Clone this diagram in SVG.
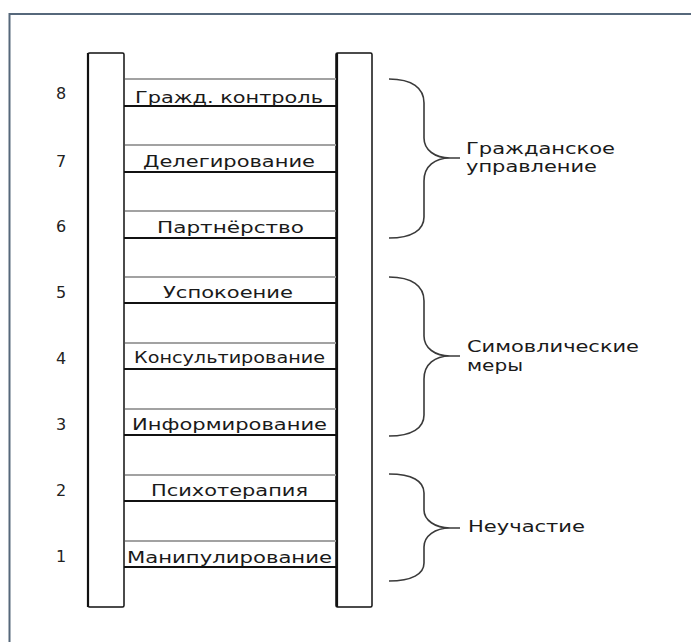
<svg xmlns="http://www.w3.org/2000/svg" width="691" height="642" viewBox="0 0 691 642">
<style>
.frame{fill:none;stroke:#56687b;stroke-width:2}
.rail{fill:#fff;stroke:#111;stroke-width:1.5}
.railedge{stroke:#111;stroke-width:2.2}
.rg{stroke:#a2a2a2;stroke-width:2}
.rb{stroke:#111;stroke-width:2}
.lbl{font-family:"DejaVu Sans",sans-serif;font-size:15px;fill:#1a1a1a}
.num{font-family:"DejaVu Sans",sans-serif;font-size:16px;fill:#222;text-anchor:middle}
.grp{font-family:"DejaVu Sans",sans-serif;font-size:16px;fill:#1a1a1a}
.brace{fill:none;stroke:#3a3a3a;stroke-width:1.6}
</style>
<rect width="691" height="642" fill="#fff"/>
<path class="frame" d="M9.5,642 L9.5,14 L691,14"/>
<g id="rails">
<rect class="rail" x="88" y="53" width="36" height="554" rx="1.5"/>
<line class="railedge" x1="88" y1="53" x2="88" y2="607"/>
<rect class="rail" x="336" y="53" width="36" height="554" rx="1.5"/>
<line class="railedge" x1="337" y1="53" x2="337" y2="607"/>
</g>
<g id="rung8"><line class="rg" x1="125" y1="79" x2="336" y2="79"/><line class="rb" x1="124" y1="106" x2="336" y2="106"/><text class="lbl" x="135" y="103" textLength="188" lengthAdjust="spacingAndGlyphs">Гражд. контроль</text><text class="num" x="61" y="99">8</text></g>
<g id="rung7"><line class="rg" x1="125" y1="145" x2="336" y2="145"/><line class="rb" x1="124" y1="172" x2="336" y2="172"/><text class="lbl" x="143" y="167" textLength="172" lengthAdjust="spacingAndGlyphs">Делегирование</text><text class="num" x="61" y="167">7</text></g>
<g id="rung6"><line class="rg" x1="125" y1="211" x2="336" y2="211"/><line class="rb" x1="124" y1="238" x2="336" y2="238"/><text class="lbl" x="157" y="233" textLength="147" lengthAdjust="spacingAndGlyphs">Партнёрство</text><text class="num" x="61" y="232">6</text></g>
<g id="rung5"><line class="rg" x1="125" y1="277" x2="336" y2="277"/><line class="rb" x1="124" y1="303" x2="336" y2="303"/><text class="lbl" x="163" y="298" textLength="130" lengthAdjust="spacingAndGlyphs">Успокоение</text><text class="num" x="61" y="298">5</text></g>
<g id="rung4"><line class="rg" x1="125" y1="343" x2="336" y2="343"/><line class="rb" x1="124" y1="369" x2="336" y2="369"/><text class="lbl" x="134" y="363" textLength="191" lengthAdjust="spacingAndGlyphs">Консультирование</text><text class="num" x="61" y="364">4</text></g>
<g id="rung3"><line class="rg" x1="125" y1="409" x2="336" y2="409"/><line class="rb" x1="124" y1="435" x2="336" y2="435"/><text class="lbl" x="132" y="430" textLength="195" lengthAdjust="spacingAndGlyphs">Информирование</text><text class="num" x="61" y="430">3</text></g>
<g id="rung2"><line class="rg" x1="125" y1="475" x2="336" y2="475"/><line class="rb" x1="124" y1="501" x2="336" y2="501"/><text class="lbl" x="151" y="496" textLength="157" lengthAdjust="spacingAndGlyphs">Психотерапия</text><text class="num" x="61" y="496">2</text></g>
<g id="rung1"><line class="rg" x1="125" y1="541" x2="336" y2="541"/><line class="rb" x1="124" y1="567" x2="336" y2="567"/><text class="lbl" x="127" y="563" textLength="205" lengthAdjust="spacingAndGlyphs">Манипулирование</text><text class="num" x="61" y="562">1</text></g>
<g id="connectors">
<path class="brace" d="M389,79 C412,79 424,88 424,103 L424,138 C424,150 435,158 450,158 L460,158 M450,158 C435,158 424,166 424,181 L424,217 C424,230 412,238 389,238"/>
<path class="brace" d="M389,277 C412,277 424,286 424,301 L424,336 C424,348 435,356 450,356 L460,356 M450,356 C435,356 424,364 424,379 L424,415 C424,428 412,436 389,436"/>
<path class="brace" d="M389,474 C412,474 424,481 424,493 L424,510 C424,520 435,528 450,528 L460,528 M450,528 C435,528 424,536 424,547 L424,563 C424,574 412,581 389,581"/>
</g>
<g id="group1"><text class="grp" x="466" y="154" textLength="149" lengthAdjust="spacingAndGlyphs">Гражданское</text><text class="grp" x="466" y="172" textLength="131" lengthAdjust="spacingAndGlyphs">управление</text></g>
<g id="group2"><text class="grp" x="467" y="352" textLength="172" lengthAdjust="spacingAndGlyphs">Симовлические</text><text class="grp" x="467" y="371" textLength="56" lengthAdjust="spacingAndGlyphs">меры</text></g>
<g id="group3"><text class="grp" x="468" y="532" textLength="117" lengthAdjust="spacingAndGlyphs">Неучастие</text></g>
</svg>
